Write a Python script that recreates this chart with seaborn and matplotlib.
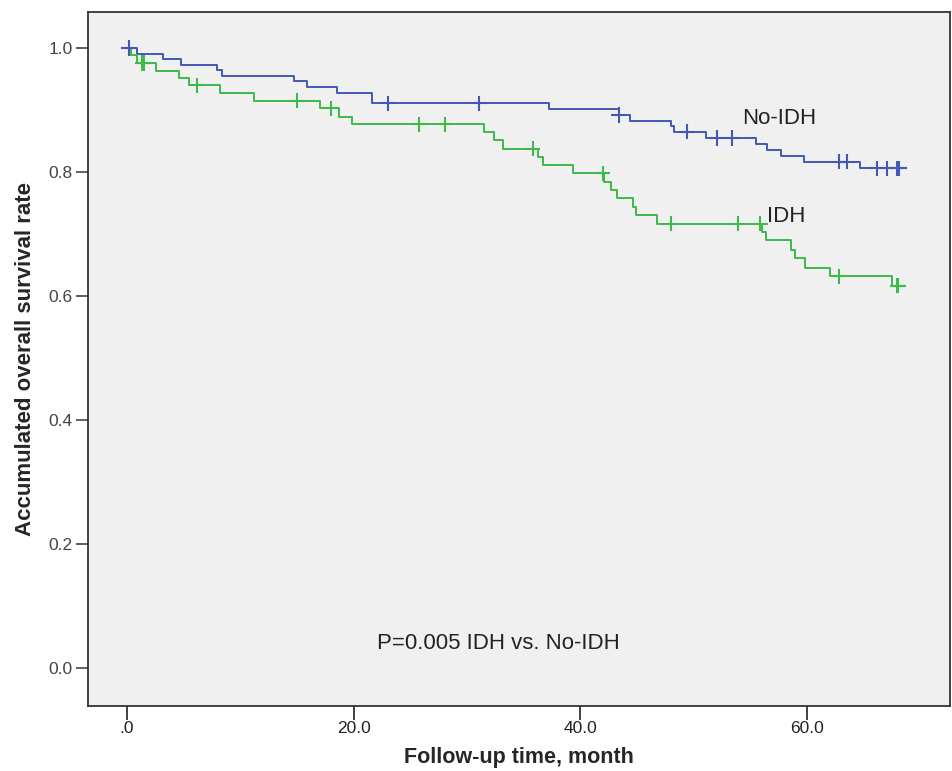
import numpy as np
import pandas as pd
import matplotlib
matplotlib.use('Agg')
import matplotlib.pyplot as plt
import seaborn as sns

# %% Kaplan-Meier steps (time in months, survival after the step)
noidh_times = [0.0, 0.86, 3.2, 4.8, 7.9, 8.4, 14.7, 15.9, 18.5, 21.6, 37.3, 43.4,
               44.4, 48.0, 48.3, 51.1, 55.5, 56.5, 57.7, 59.8, 64.7, 68.3]
noidh_surv = [1.0, 0.991, 0.982, 0.973, 0.965, 0.955, 0.947, 0.938, 0.928, 0.911,
              0.901, 0.892, 0.883, 0.874, 0.865, 0.855, 0.846, 0.836, 0.826, 0.817,
              0.806, 0.806]
noidh_censor = [0.15, 23.0, 31.1, 43.4, 49.4, 52.1, 53.4, 62.9, 63.6, 66.2, 67.1, 68.0, 68.2]

idh_times = [0.0, 0.33, 0.91, 2.6, 4.6, 5.5, 8.2, 11.2, 17.0, 18.7, 19.9, 31.5, 32.4,
             33.2, 36.3, 36.7, 39.4, 42.1, 42.7, 43.3, 44.7, 44.9, 46.8, 56.1, 56.4,
             58.6, 59.0, 59.9, 62.1, 67.5, 68.3]
idh_surv = [1.0, 0.989, 0.976, 0.963, 0.952, 0.940, 0.927, 0.915, 0.903, 0.889, 0.877,
            0.865, 0.852, 0.838, 0.825, 0.811, 0.798, 0.784, 0.771, 0.758, 0.744, 0.731,
            0.717, 0.704, 0.690, 0.675, 0.661, 0.646, 0.632, 0.617, 0.617]
idh_censor = [1.35, 1.5, 6.2, 15.0, 18.0, 25.8, 28.1, 35.8, 42.0, 48.0, 53.9, 55.9,
              62.9, 68.0, 68.1]

groups = ['No-IDH', 'IDH']
colors = {'No-IDH': '#4358b5', 'IDH': '#3fb94c'}

# %% Build frames
steps = pd.concat([
    pd.DataFrame({'time': noidh_times, 'surv': noidh_surv, 'group': 'No-IDH'}),
    pd.DataFrame({'time': idh_times, 'surv': idh_surv, 'group': 'IDH'}),
], ignore_index=True)


def surv_at(times, surv, t):
    i = np.searchsorted(times, t, side='right') - 1
    return surv[i]


cens = pd.concat([
    pd.DataFrame({'time': noidh_censor,
                  'surv': [surv_at(noidh_times, noidh_surv, c) for c in noidh_censor],
                  'group': 'No-IDH'}),
    pd.DataFrame({'time': idh_censor,
                  'surv': [surv_at(idh_times, idh_surv, c) for c in idh_censor],
                  'group': 'IDH'}),
], ignore_index=True)

# %% Plot
sns.set_style('ticks')
plt.rcParams['font.family'] = ['Liberation Sans', 'DejaVu Sans']

fig = plt.figure(figsize=(9.53, 7.71), dpi=100)
ax = fig.add_axes([0.0923, 0.0843, 0.905, 0.9])
ax.set_facecolor('#f0f0f0')

sns.lineplot(data=steps, x='time', y='surv', hue='group', palette=colors,
             drawstyle='steps-post', estimator=None, sort=False, legend=False,
             linewidth=1.4, ax=ax)
sns.scatterplot(data=cens, x='time', y='surv', hue='group', palette=colors,
                marker='+', s=120, linewidth=1.5, legend=False, ax=ax, zorder=3)

ax.set_xlim(-3.45, 72.7)
ax.set_ylim(-0.061, 1.058)
ax.set_xticks([0, 20, 40, 60])
ax.set_xticklabels(['.0', '20.0', '40.0', '60.0'])
ax.set_yticks([0, 0.2, 0.4, 0.6, 0.8, 1.0])
ax.set_yticklabels(['0.0', '0.2', '0.4', '0.6', '0.8', '1.0'])
ax.tick_params(axis='x', length=10, width=1.2, pad=1, labelsize=12.5, colors='#222222')
ax.tick_params(axis='y', length=9, width=1.2, pad=2, labelsize=12.5, colors='#444444')
for s in ax.spines.values():
    s.set_color('#333333')
    s.set_linewidth(1.3)

ax.set_xlabel('Follow-up time, month', fontsize=15.5, fontweight='bold', labelpad=8)
ax.set_ylabel('Accumulated overall survival rate', fontsize=16, fontweight='bold', labelpad=9)

ax.text(54.3, 0.887, 'No-IDH', fontsize=16, color='#222222', va='center')
ax.text(56.5, 0.729, 'IDH', fontsize=16, color='#222222', va='center')
ax.text(32.8, 0.040, 'P=0.005 IDH vs. No-IDH', fontsize=16, color='#222222',
        ha='center', va='center')

fig.savefig('out.png', dpi=100)
